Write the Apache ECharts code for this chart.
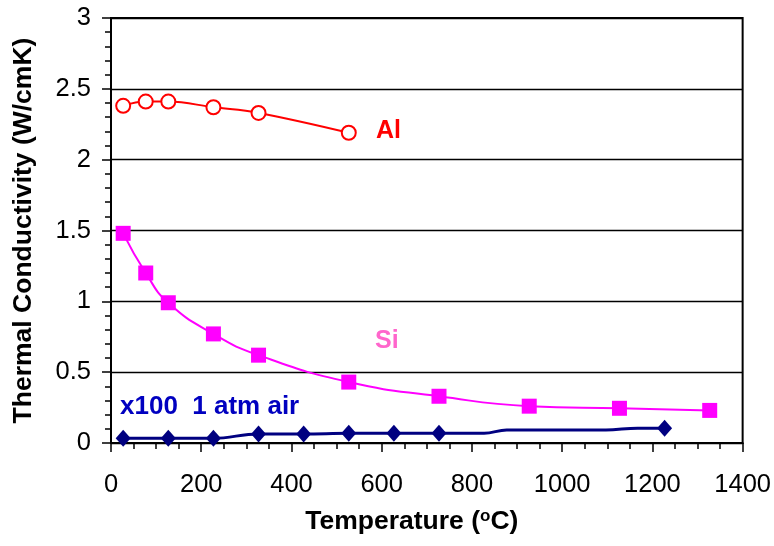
<!DOCTYPE html>
<html>
<head>
<meta charset="utf-8">
<script src="https://cdn.jsdelivr.net/npm/echarts@6/dist/echarts.min.js"></script>
<style>
html,body{margin:0;padding:0;background:#fff;}
#chart{width:774px;height:546px;}
</style>
</head>
<body>
<div id="chart"></div>
<script>
// Data
const alTemp = [27, 77, 127, 227, 327, 527];
const alK = [2.38, 2.41, 2.41, 2.37, 2.33, 2.19];

const siTemp = [27, 77, 127, 227, 327, 527, 727, 927, 1127, 1327];
const siK = [1.48, 1.20, 0.99, 0.77, 0.62, 0.43, 0.33, 0.26, 0.245, 0.23];

const airTemp = [27, 127, 227, 327, 427, 527, 627, 727, 827, 877, 1097, 1167, 1227];
const airK = [0.033, 0.033, 0.033, 0.064, 0.064, 0.068, 0.068, 0.068, 0.068, 0.092, 0.092, 0.104, 0.104];
const airMarked = [true, true, true, true, true, true, true, true, false, false, false, false, true];

const xTicks = [0, 200, 400, 600, 800, 1000, 1200, 1400];
const yTicks = [0, 0.5, 1, 1.5, 2, 2.5, 3];

const labelAl = 'Al';
const labelSi = 'Si';
const labelAir = 'x100  1 atm air';
const xTitle = 'Temperature ({sup|o}C)';
const yTitle = 'Thermal Conductivity (W/cmK)';

const FONT = '"Liberation Sans", Arial, Helvetica, sans-serif';

const chart = echarts.init(document.getElementById('chart'));

const zip = (xs, ys) => xs.map((x, i) => [x, ys[i]]);

chart.setOption({
  animation: false,
  backgroundColor: '#fff',
  grid: {
    left: 111, right: 26, top: 18, bottom: 103,
    show: true, borderColor: '#000', borderWidth: 2, backgroundColor: 'transparent'
  },
  xAxis: {
    type: 'value',
    min: xTicks[0], max: xTicks[xTicks.length - 1], interval: 200,
    name: xTitle,
    nameLocation: 'middle',
    nameGap: 65,
    nameTextStyle: {
      fontFamily: FONT, fontSize: 26.5, fontWeight: 'bold', color: '#000',
      padding: [0, 30, 0, 0],
      rich: { sup: { fontFamily: FONT, fontSize: 17, fontWeight: 'bold', color: '#000', verticalAlign: 'top', padding: [0, 0, 10, 0] } }
    },
    axisLine: { show: true, lineStyle: { color: '#000', width: 2 } },
    axisTick: { show: true, inside: false, length: 9, lineStyle: { color: '#000', width: 1.5 } },
    minorTick: { show: true, splitNumber: 4, length: 6, lineStyle: { color: '#000', width: 1.5 } },
    axisLabel: { fontFamily: FONT, fontSize: 25.5, color: '#000', margin: 29, formatter: v => String(v) },
    splitLine: { show: false }
  },
  yAxis: {
    type: 'value',
    min: yTicks[0], max: yTicks[yTicks.length - 1], interval: 0.5,
    name: yTitle,
    nameLocation: 'middle',
    nameGap: 74,
    nameRotate: 90,
    nameTextStyle: { fontFamily: FONT, fontSize: 26.5, fontWeight: 'bold', color: '#000' },
    axisLine: { show: true, lineStyle: { color: '#000', width: 2 } },
    axisTick: { show: true, inside: false, length: 9, lineStyle: { color: '#000', width: 1.5 } },
    minorTick: { show: true, splitNumber: 5, length: 6, lineStyle: { color: '#000', width: 1.5 } },
    axisLabel: { fontFamily: FONT, fontSize: 25.5, color: '#000', margin: 20, formatter: v => String(v) },
    splitLine: { show: true, lineStyle: { color: '#000', width: 1.3 } }
  },
  series: [
    {
      name: 'Al', type: 'line',
      data: zip(alTemp, alK),
      smooth: 0.4,
      symbol: 'circle', symbolSize: 14,
      lineStyle: { color: '#ff0000', width: 2 },
      itemStyle: { color: '#ffffff', borderColor: '#ff0000', borderWidth: 2 },
      z: 3
    },
    {
      name: 'Si', type: 'line',
      data: zip(siTemp, siK),
      smooth: 0.5,
      symbol: 'rect', symbolSize: 15,
      lineStyle: { color: '#ff00ff', width: 2 },
      itemStyle: { color: '#ff00ff' },
      z: 3
    },
    {
      name: 'air', type: 'line',
      data: airTemp.map((t, i) => airMarked[i]
        ? { value: [t, airK[i]] }
        : { value: [t, airK[i]], symbol: 'none' }),
      smooth: 0.4, smoothMonotone: 'x',
      symbol: 'diamond', symbolSize: [15, 17],
      lineStyle: { color: '#000080', width: 3 },
      itemStyle: { color: '#000080' },
      z: 3
    }
  ],
  graphic: [
    { type: 'text', left: 376, top: 119, style: { text: labelAl, fill: '#ff0000', font: 'bold 25px ' + FONT } },
    { type: 'text', left: 375, top: 329, style: { text: labelSi, fill: '#ff66cc', font: 'bold 25px ' + FONT } },
    { type: 'text', left: 120, top: 394, style: { text: labelAir, fill: '#0000c0', font: 'bold 26px ' + FONT } }
  ]
});
</script>
</body>
</html>
